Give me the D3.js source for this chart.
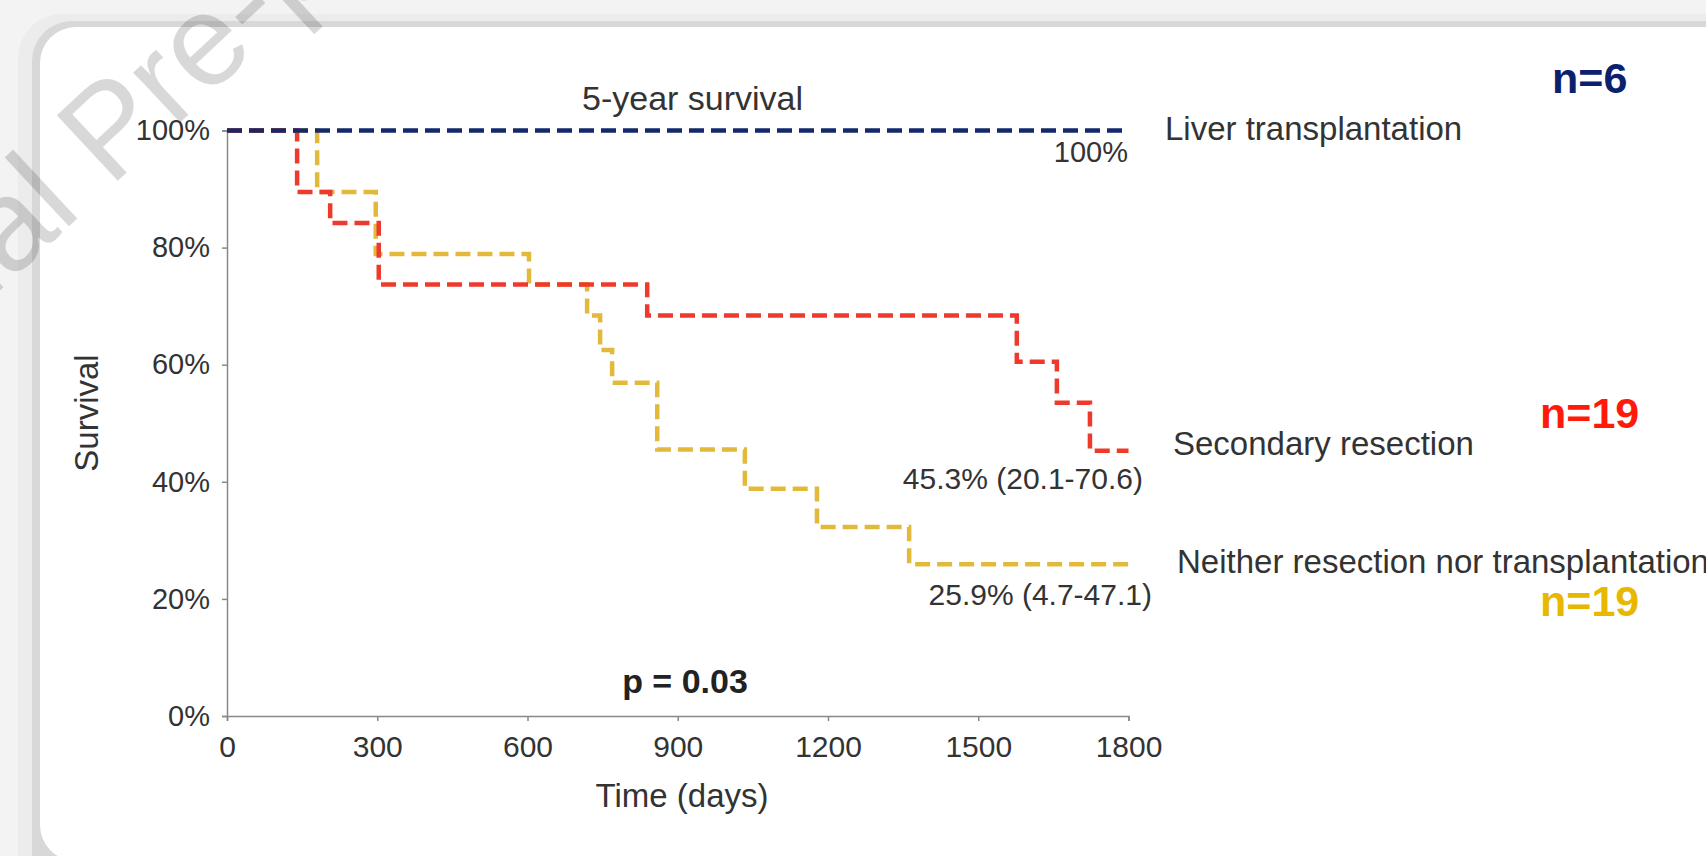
<!DOCTYPE html>
<html>
<head>
<meta charset="utf-8">
<script src="https://cdn.jsdelivr.net/npm/d3@7"></script>
<style>
  body { margin: 0; background: #f4f4f4; }
  text { font-family: "Liberation Sans", Arial, Helvetica, sans-serif; }
</style>
</head>
<body>
<svg id="chart" width="1706" height="856"></svg>
<script>
// Kaplan-Meier の値
const groups = ["Liver transplantation", "Secondary resection", "Neither resection nor transplantation"];
const groupN = ["n=6", "n=19", "n=19"];
const groupColors = ["#13296b", "#ee3a2c", "#e2b93b"];
const nColors = ["#0b2170", "#ff1a0a", "#e8b800"];

const livTimes = [0, 1800];
const livSurv = [100, 100];
const secTimes = [0, 140, 206, 303, 839, 1577, 1657, 1723, 1800];
const secSurv = [100, 89.5, 84.2, 73.7, 68.4, 60.5, 53.5, 45.3, 45.3];
const neiTimes = [0, 180, 297, 603, 719, 745, 769, 859, 1034, 1178, 1362, 1800];
const neiSurv = [100, 89.5, 78.9, 73.7, 68.4, 62.5, 56.9, 45.5, 38.8, 32.3, 25.9, 25.9];

const endLabels = ["100%", "45.3% (20.1-70.6)", "25.9% (4.7-47.1)"];
const xTicks = [0, 300, 600, 900, 1200, 1500, 1800];
const yTicks = [0, 20, 40, 60, 80, 100];

const svg = d3.select("#chart");

// 背景カード
svg.append("rect").attr("width", 1706).attr("height", 856).attr("fill", "#f3f3f3");
svg.append("rect").attr("x", 18).attr("y", 14).attr("width", 1750).attr("height", 900).attr("rx", 44).attr("fill", "#ececec");
svg.append("rect").attr("x", 32).attr("y", 21).attr("width", 1750).attr("height", 900).attr("rx", 40).attr("fill", "#d8d8d8");
svg.append("rect").attr("x", 40).attr("y", 27).attr("width", 1750).attr("height", 834).attr("rx", 36).attr("fill", "#fff");

const x = d3.scaleLinear().domain([0, 1800]).range([227, 1128.5]);
const y = d3.scaleLinear().domain([0, 100]).range([716, 130.5]);

// 軸
const yAxis = svg.append("g")
  .attr("transform", "translate(227,0)")
  .call(d3.axisLeft(y).tickValues(yTicks).tickSize(5).tickPadding(12).tickFormat(d => d + "%"));
yAxis.selectAll("text").attr("font-size", "29px").attr("fill", "#333");

const xAxis = svg.append("g")
  .attr("transform", "translate(0,716)")
  .call(d3.axisBottom(x).tickValues(xTicks).tickSize(5).tickPadding(15).tickFormat(d3.format("d")));
xAxis.selectAll("text").attr("font-size", "30px").attr("fill", "#333");

[yAxis, xAxis].forEach(a => {
  a.select(".domain").attr("stroke", "#888").attr("stroke-width", 1.5);
  a.selectAll(".tick line").attr("stroke", "#888").attr("stroke-width", 1.5);
  a.attr("font-family", null);
});

// 曲線
const line = d3.line()
  .x(d => x(d[0]))
  .y(d => y(d[1]))
  .curve(d3.curveStepAfter);

const series = [
  d3.zip(livTimes, livSurv),
  d3.zip(secTimes, secSurv),
  d3.zip(neiTimes, neiSurv)
];

[2, 1, 0].forEach(i => {
  svg.append("path")
    .attr("d", line(series[i]))
    .attr("fill", "none")
    .attr("stroke", groupColors[i])
    .attr("stroke-width", 4.5)
    .attr("stroke-dasharray", "15,7");
});

// 5年生存率ラベル
const lastY = [livSurv[livSurv.length - 1], secSurv[secSurv.length - 1], neiSurv[neiSurv.length - 1]];
const endX = [1128, 1143, 1152];
const endDy = [31, 38, 41];
endLabels.forEach((t, i) => {
  svg.append("text")
    .attr("x", endX[i])
    .attr("y", y(lastY[i]) + endDy[i])
    .attr("text-anchor", "end")
    .attr("font-size", i === 0 ? "29px" : "30px")
    .attr("fill", "#333")
    .text(t);
});

// 凡例
const legX = [1165, 1173, 1177];
const legDy = [9, 4, 9];
groups.forEach((g, i) => {
  svg.append("text")
    .attr("x", legX[i])
    .attr("y", y(lastY[i]) + legDy[i])
    .attr("font-size", "33px")
    .attr("fill", "#333")
    .text(g);
});

const nX = [1552, 1540, 1540];
const nY = [93, 428, 616];
groupN.forEach((t, i) => {
  svg.append("text")
    .attr("x", nX[i])
    .attr("y", nY[i])
    .attr("font-size", "43px")
    .attr("font-weight", "bold")
    .attr("fill", nColors[i])
    .text(t);
});

// タイトル・軸ラベル
svg.append("text")
  .attr("x", 582).attr("y", 110)
  .attr("font-size", "34px").attr("fill", "#333")
  .text("5-year survival");

svg.append("text")
  .attr("x", 685).attr("y", 693)
  .attr("text-anchor", "middle")
  .attr("font-size", "34px").attr("font-weight", "bold").attr("fill", "#222")
  .text("p = 0.03");

svg.append("text")
  .attr("x", 682).attr("y", 807)
  .attr("text-anchor", "middle")
  .attr("font-size", "33px").attr("fill", "#333")
  .text("Time (days)");

svg.append("text")
  .attr("transform", "translate(98,413) rotate(-90)")
  .attr("text-anchor", "middle")
  .attr("font-size", "33px").attr("fill", "#333")
  .text("Survival");

// 透かし
const wm = svg.append("g")
  .attr("transform", "translate(110,188) rotate(-43)")
  .attr("opacity", 0.15);
wm.append("text").attr("x", 0).attr("font-size", "130px").attr("fill", "#000").text("Pre-proof");
wm.append("text").attr("x", -36).attr("text-anchor", "end").attr("font-size", "130px").attr("fill", "#000").text("Journal");
</script>
</body>
</html>
